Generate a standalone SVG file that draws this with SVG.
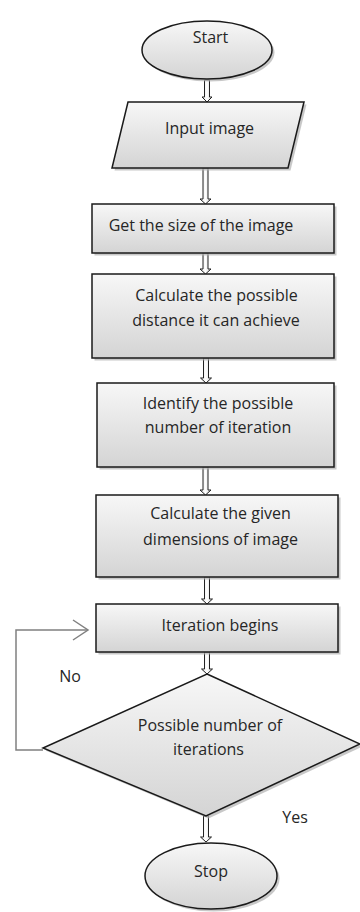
<svg xmlns="http://www.w3.org/2000/svg" width="360" height="912" viewBox="0 0 360 912">
<defs>
<linearGradient id="g" x1="0" y1="0" x2="0" y2="1">
<stop offset="0" stop-color="#f7f7f7"/>
<stop offset="1" stop-color="#d4d4d4"/>
</linearGradient>
<linearGradient id="ga" x1="0" y1="0" x2="1" y2="0">
<stop offset="0" stop-color="#e0e0e0"/>
<stop offset="0.5" stop-color="#ffffff"/>
<stop offset="1" stop-color="#d0d0d0"/>
</linearGradient>
</defs>
<style>
.sh{fill:#b0b0b0;opacity:0.7}
.n{fill:url(#g);stroke:#1a1a1a;stroke-width:1.5}
.t{font-family:"Open Sans","Liberation Sans",sans-serif;font-size:16px;fill:#262626;text-anchor:middle}
.ar{fill:url(#ga);stroke:#222;stroke-width:1}
.lp{fill:none;stroke:#808080;stroke-width:1.5}
</style>
<rect width="360" height="912" fill="#ffffff"/>
<g id="connectors">
<path class="ar" d="M204.5,80 V97 H202 L207,102 L212,97 H209.5 V80 Z"/>
<path class="ar" d="M203,168 V199 H200 L205.5,204 L211,199 H208 V168 Z"/>
<path class="ar" d="M203,253 V269 H200 L205.5,274 L211,269 H208 V253 Z"/>
<path class="ar" d="M203.5,358 V378 H200.5 L206,383 L211.5,378 H208.5 V358 Z"/>
<path class="ar" d="M203,467 V490 H200 L205.5,495 L211,490 H208 V467 Z"/>
<path class="ar" d="M204.5,577 V599 H201.5 L207,604 L212.5,599 H209.5 V577 Z"/>
<path class="ar" d="M204.5,652 V669 H201.5 L207,674 L212.5,669 H209.5 V652 Z"/>
<path class="ar" d="M203.5,816 V837 H200.5 L206,842 L211.5,837 H208.5 V816 Z"/>
<polyline class="lp" points="43,750 16,750 16,630 88,630"/>
<polyline class="lp" points="73,620 88,630 73,640"/>
<text class="t" x="70" y="682">No</text>
<text class="t" x="295" y="823">Yes</text>
</g>
<g id="start">
<ellipse class="sh" cx="209.5" cy="52.5" rx="65" ry="29"/>
<ellipse class="n" cx="207" cy="50" rx="65" ry="29"/>
<text class="t" x="210.5" y="43">Start</text>
</g>
<g id="input">
<polygon class="sh" points="130.5,104.5 306.5,104.5 290.5,170.5 114.5,170.5"/>
<polygon class="n" points="128,102 304,102 288,168 112,168"/>
<text class="t" x="209.5" y="134">Input image</text>
</g>
<g id="size">
<rect class="sh" x="94.5" y="206.5" width="242" height="49"/>
<rect class="n" x="92" y="204" width="242" height="49"/>
<text class="t" x="201" y="231">Get the size of the image</text>
</g>
<g id="distance">
<rect class="sh" x="94.5" y="276.5" width="242" height="84"/>
<rect class="n" x="92" y="274" width="242" height="84"/>
<text class="t" x="216.5" y="301">Calculate the possible</text>
<text class="t" x="216" y="326">distance it can achieve</text>
</g>
<g id="identify">
<rect class="sh" x="99.5" y="385.5" width="237" height="84"/>
<rect class="n" x="97" y="383" width="237" height="84"/>
<text class="t" x="218" y="409">Identify the possible</text>
<text class="t" x="218" y="433">number of iteration</text>
</g>
<g id="dimensions">
<rect class="sh" x="98.5" y="497.5" width="242" height="82"/>
<rect class="n" x="96" y="495" width="242" height="82"/>
<text class="t" x="220.5" y="519">Calculate the given</text>
<text class="t" x="220.5" y="545">dimensions of image</text>
</g>
<g id="iteration">
<rect class="sh" x="98.5" y="606.5" width="242" height="48"/>
<rect class="n" x="96" y="604" width="242" height="48"/>
<text class="t" x="220" y="631">Iteration begins</text>
</g>
<g id="decision">
<polygon class="sh" points="209.5,676.5 362.5,746.5 208.5,818.5 45.5,750.5"/>
<polygon class="n" points="207,674 360,744 206,816 43,748"/>
<text class="t" x="210" y="731">Possible number of</text>
<text class="t" x="208.5" y="755">iterations</text>
</g>
<g id="stop">
<ellipse class="sh" cx="213.5" cy="878.5" rx="66" ry="33"/>
<ellipse class="n" cx="211" cy="876" rx="66" ry="33"/>
<text class="t" x="211" y="877">Stop</text>
</g>
</svg>
